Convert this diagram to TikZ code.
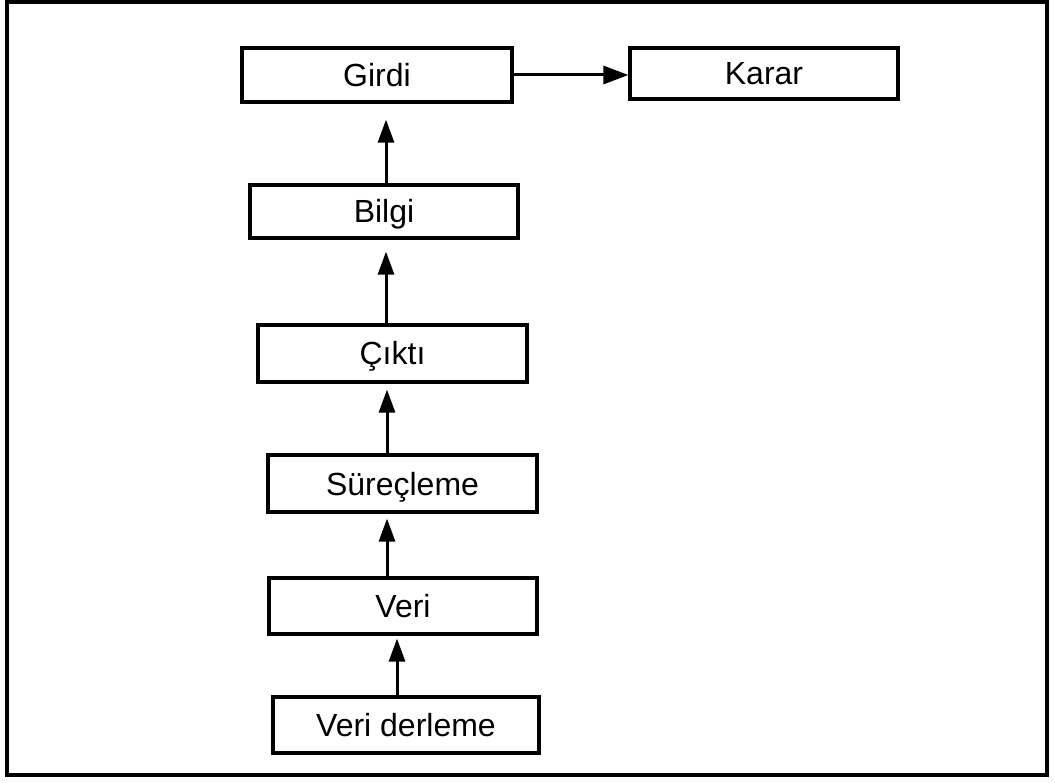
\documentclass[tikz,border=0pt]{standalone}
\usepackage{fontspec}
\setmainfont{Liberation Sans}
\usetikzlibrary{arrows.meta}
\begin{document}
\begin{tikzpicture}[x=1pt,y=-1pt,
  stepbox/.style={draw=black,line width=3.2pt,rectangle,inner sep=0pt,
    text height=23pt,text depth=0pt,
    font=\fontsize{32}{38}\selectfont},
  arr/.style={line width=3pt,-{Triangle[length=23pt,width=16pt]}},
  harr/.style={line width=3pt,-{Triangle[length=25pt,width=18pt]}}]
  \useasboundingbox (0,0) rectangle (1055,783);
  % outer frame
  \draw[line width=3.4pt] (7,2) rectangle (1047,775);
  % boxes
  \node[stepbox,minimum width=270pt,minimum height=54pt] (girdi) at (377,75) {Girdi};
  \node[stepbox,minimum width=268pt,minimum height=51pt] (karar) at (764,73.5) {Karar};
  \node[stepbox,minimum width=268pt,minimum height=53pt] (bilgi) at (384,211.5) {Bilgi};
  \node[stepbox,minimum width=269pt,minimum height=57pt] (cikti) at (392.5,353.5) {Çıktı};
  \node[stepbox,minimum width=269pt,minimum height=57pt] (surec) at (402.5,483.5) {Süreçleme};
  \node[stepbox,minimum width=268pt,minimum height=56pt] (veri) at (403,606) {Veri};
  \node[stepbox,minimum width=266pt,minimum height=56pt] (derleme) at (406,725) {Veri derleme};
  % connectors
  \draw[harr] (girdi.east) -- (karar.west |- girdi.east);
  \draw[arr] ([xshift=2pt]bilgi.north) -- ([xshift=9pt,yshift=-16pt]girdi.south);
  \draw[arr] ([xshift=-6.5pt]cikti.north) -- ([xshift=2pt,yshift=-12pt]bilgi.south);
  \draw[arr] ([xshift=-15.5pt]surec.north) -- ([xshift=-5.5pt,yshift=-6pt]cikti.south);
  \draw[arr] ([xshift=-16pt]veri.north) -- ([xshift=-15.5pt,yshift=-5pt]surec.south);
  \draw[arr] ([xshift=-9pt]derleme.north) -- ([xshift=-6pt,yshift=-3pt]veri.south);
\end{tikzpicture}
\end{document}
